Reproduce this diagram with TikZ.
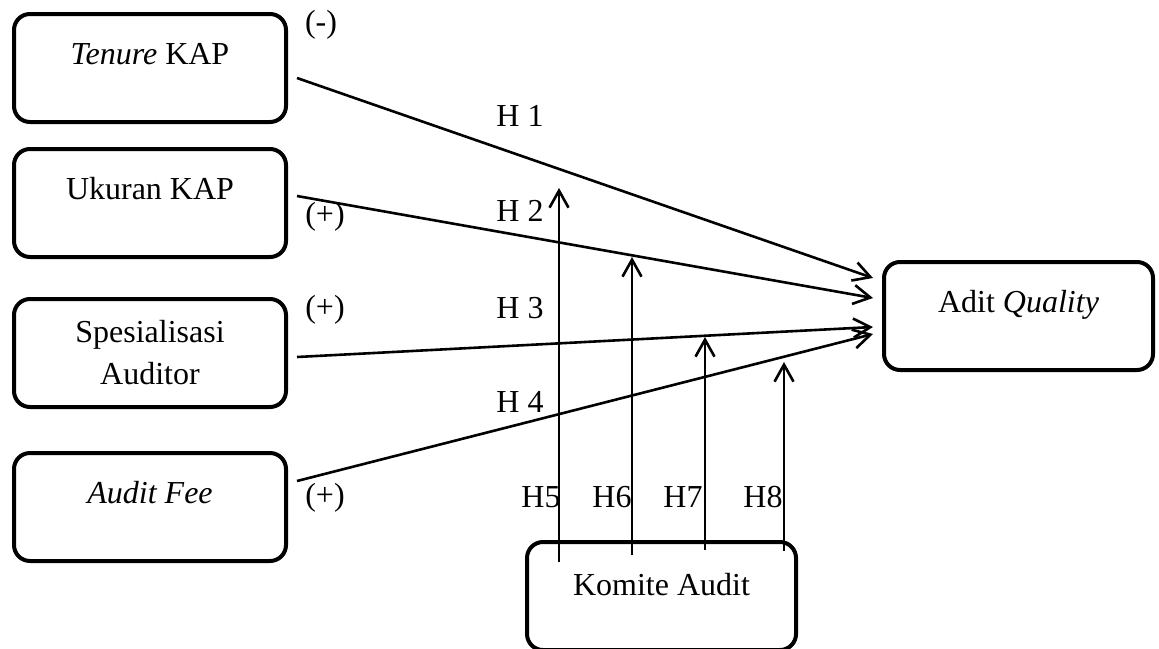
\documentclass[tikz,border=0pt]{standalone}
\usepackage{fontspec}
\setmainfont{Liberation Serif}
\usetikzlibrary{arrows.meta}
\usetikzlibrary{positioning}
\tikzset{
  kotak/.style={draw, line width=2pt, rounded corners=8pt, inner sep=0pt,
    minimum width=136pt, minimum height=54pt, align=center}, % kotak variabel
  teksatas/.style={text height=25pt, text depth=29pt}, % teks di atas kotak
  panah/.style={line width=1.3pt,
    -{Straight Barb[length=8.5pt,width=9.5pt,line width=1.3pt]}}, % panah
  tanda/.style={inner sep=0pt} % tanda H dan (+)/(-)
}

\begin{document}
\begin{tikzpicture}[x=0.5pt, y=-0.5pt,
font=\fontsize{16}{21}\selectfont
]
\useasboundingbox (0,0) rectangle (1159,648);

%Variabel
\node[kotak, teksatas, anchor=north] (tenure) at (150,12) {\textit{Tenure} KAP};
\node[kotak, teksatas, below=11.5pt of tenure] (ukuran) {Ukuran KAP};
\node[kotak, below=19pt of ukuran] (spesialisasi) {Spesialisasi\\Auditor};
\node[kotak, teksatas, below=21pt of spesialisasi] (fee) {\textit{Audit Fee}};

\node[kotak, teksatas, minimum width=134.5pt, anchor=north] (quality) at (1018.5,260) {Adit \textit{Quality}};
\node[kotak, teksatas, text depth=26pt, minimum width=134.5pt, anchor=north] (komite) at (661.5,540) {Komite Audit};

%Ujung panah moderasi
\coordinate (u5) at (559,188);
\coordinate (u6) at (632,257);
\coordinate (u7) at (705,337);
\coordinate (u8) at (784,362);

%Panah H1 - H4
\draw[panah] ([shift={(9,10)}]tenure.east) -- ([shift={(-9,-38)}]quality.west);
\draw[panah] ([shift={(9,-7)}]ukuran.east) -- ([shift={(-9,-18)}]quality.west);
\draw[panah] ([shift={(9,4)}]spesialisasi.east) -- ([shift={(-9,11)}]quality.west);
\draw[panah] ([shift={(9,-26)}]fee.east) -- ([shift={(-9,18)}]quality.west);

%Panah H5 - H8
\draw[panah] ([shift={(-102.5,22)}]komite.north) -- (u5);
\draw[panah] ([shift={(-29.5,15)}]komite.north) -- (u6);
\draw[panah] ([shift={(43.5,10)}]komite.north) -- (u7);
\draw[panah] ([shift={(122.5,11)}]komite.north) -- (u8);

%Tanda
\node[tanda] (s1) at (321,25) {(-)};
\node[tanda] (s2) at (325,217) {(+)};
\node[tanda] (s3) at (325,310) {(+)};
\node[tanda] (s4) at (325,498) {(+)};

\node[tanda] (h1) at (520,116) {H 1};
\node[tanda] (h2) at (520,211) {H 2};
\node[tanda] (h3) at (520,308) {H 3};
\node[tanda] (h4) at (520,402) {H 4};

\node[tanda] (h5) at (541,497) {H5};
\node[tanda] (h6) at (612,497) {H6};
\node[tanda] (h7) at (683,497) {H7};
\node[tanda] (h8) at (763,497) {H8};

\end{tikzpicture}
\end{document}
